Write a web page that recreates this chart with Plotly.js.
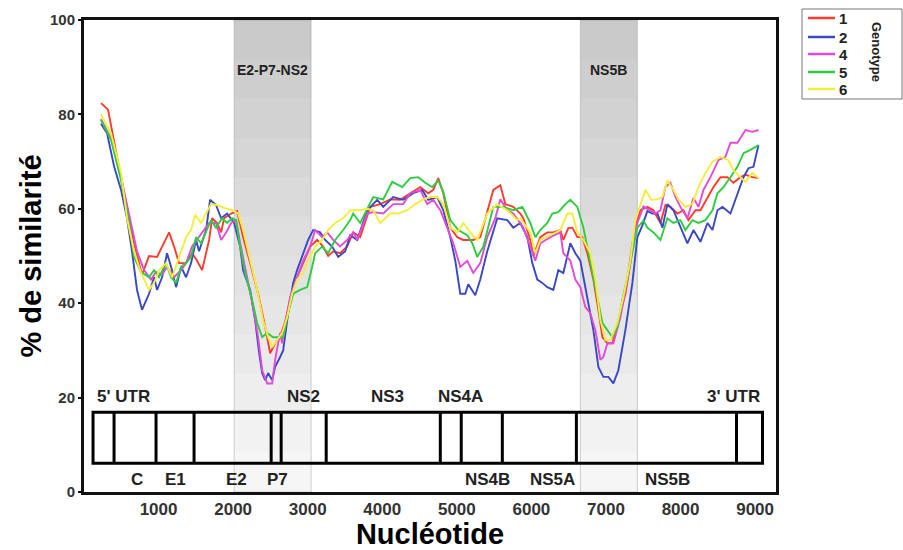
<!DOCTYPE html>
<html><head><meta charset="utf-8">
<script src="https://cdn.plot.ly/plotly-3.0.1.min.js"></script>
<style>html,body{margin:0;padding:0;background:#fff}#chart{width:903px;height:550px}</style>
</head><body><div id="chart"></div>
<script>
// ---- data (nucleotide position, % similarity) ----
const genotypeNames = ['1', '2', '4', '5', '6'];
const genotype1 = [[228,82.4],[322,81],[443,71],[577,60],[671,52.7],[778,46],[872,50],[980,49.8],[1047,52],[1141,55],[1208,52],[1275,48.5],[1369,48.5],[1449,50.6],[1516,49],[1584,47],[1678,53.4],[1718,58],[1785,57],[1839,55],[1879,58],[1973,59],[2053,59.5],[2134,54],[2228,48.5],[2335,42],[2429,35],[2496,29.4],[2563,31.5],[2630,33],[2697,36],[2765,41],[2858,45.5],[2939,48.5],[3033,52],[3127,53.4],[3207,52],[3274,50],[3342,51],[3435,50.6],[3529,52],[3610,55],[3704,54],[3838,60.4],[3972,61],[4107,62],[4241,61.9],[4375,63.3],[4509,64.6],[4616,63.3],[4684,64],[4751,66.5],[4818,63.3],[4912,56],[5006,54],[5086,53.4],[5220,53.4],[5314,54],[5408,59.7],[5489,64],[5583,65],[5650,61],[5757,60.4],[5851,59],[5891,58],[5985,53.4],[6026,50],[6119,54],[6213,55],[6294,55],[6387,55.5],[6428,53.4],[6495,55.9],[6549,56],[6616,54],[6683,54],[6750,50.6],[6831,45],[6898,38.6],[6952,32.8],[7019,31.5],[7086,31.5],[7166,36.4],[7260,42],[7327,48.5],[7394,56],[7461,59.7],[7555,60.4],[7636,59.7],[7730,57],[7797,60.8],[7864,60.4],[7958,59],[8039,59.7],[8106,57.6],[8200,59.7],[8267,59.7],[8361,62.5],[8441,64.6],[8535,66.7],[8629,66.7],[8709,65.5],[8803,66.7],[8871,67.2],[8965,66.7],[9045,66.5]];
const genotype2 = [[228,78],[309,76],[403,69],[497,64],[577,58],[644,51],[711,42.8],[778,38.6],[872,42],[939,45.5],[980,42.8],[1047,45.5],[1114,50.6],[1181,47],[1235,43.4],[1302,47.7],[1369,45.5],[1436,48.5],[1503,53.4],[1543,51],[1637,55.5],[1691,61.9],[1771,60.8],[1839,58],[1919,59],[2013,57],[2094,52],[2134,47],[2228,42.8],[2295,36.4],[2349,29.4],[2389,25.2],[2429,23.7],[2469,25.2],[2523,23.7],[2563,26.5],[2630,28.6],[2671,30],[2738,37.9],[2805,44.3],[2858,47],[2939,50.6],[3006,53.4],[3073,55.5],[3167,55],[3234,53.4],[3328,52],[3409,49.8],[3503,51],[3570,54.4],[3664,53.4],[3798,59.7],[3932,61.9],[4013,60.4],[4147,62.5],[4281,61.9],[4415,63.3],[4536,64],[4616,61.9],[4737,62.5],[4818,59.7],[4912,54],[4979,49],[5046,42],[5113,42],[5153,44],[5247,41.7],[5314,45],[5408,51],[5542,58],[5677,57.6],[5757,56],[5851,57],[5945,54],[6012,48.5],[6079,45],[6146,44.3],[6213,43.4],[6294,42.8],[6361,47],[6428,46.4],[6522,52.7],[6589,50.6],[6656,49],[6750,41.3],[6831,34.3],[6898,26.5],[6965,24.4],[7032,24.4],[7099,23],[7166,25.8],[7260,34.3],[7354,44.3],[7421,54],[7488,56.5],[7555,59.5],[7623,59],[7690,59],[7757,56],[7824,61],[7904,59.7],[7998,56],[8092,52.7],[8173,55.5],[8267,53],[8361,57],[8428,55.5],[8495,59.7],[8562,60.4],[8669,59],[8763,63.3],[8844,66.7],[8911,68.6],[8978,68.9],[9045,73.5]];
const genotype4 = [[228,79],[362,75],[497,66.7],[631,57],[711,51],[805,47],[899,45],[966,46.6],[1047,46],[1114,47.7],[1208,45.5],[1302,47],[1369,48.5],[1449,52],[1516,53.4],[1584,55],[1678,57],[1771,57],[1839,53.4],[1906,55],[1973,57],[2040,57.6],[2094,52.7],[2187,45.5],[2268,39.2],[2335,32.8],[2389,25.8],[2456,23],[2523,23],[2563,28],[2630,33.7],[2657,31.5],[2697,35],[2765,41.3],[2858,45.5],[2939,49],[3033,52],[3100,55.5],[3194,54],[3261,55],[3342,53.4],[3435,52],[3529,53.4],[3610,55],[3664,53.4],[3798,59],[3878,59.3],[4013,59],[4147,61],[4281,61],[4375,63.3],[4509,64],[4603,61],[4684,61.9],[4778,59.7],[4871,56],[4952,52.7],[5046,47.7],[5140,49],[5220,46.4],[5314,48.5],[5408,54],[5516,58],[5583,62],[5677,59.7],[5757,59],[5891,56],[5985,52],[6052,49],[6119,52.7],[6254,54],[6387,55],[6428,50.6],[6522,49],[6589,45],[6656,43.4],[6723,39.2],[6790,37.9],[6858,34.3],[6925,28],[6965,28.6],[7019,31.5],[7099,31.5],[7193,37],[7287,45],[7354,52.7],[7421,57],[7502,60.5],[7596,59.7],[7663,59],[7730,59.7],[7797,64.6],[7864,65.5],[7931,62.5],[7998,60.4],[8092,58],[8173,62.3],[8240,60.4],[8307,64],[8401,66.7],[8508,70.3],[8602,71],[8669,74],[8763,74],[8871,76.7],[8965,76.3],[9045,76.7]];
const genotype5 = [[228,78.8],[362,74.6],[497,66],[604,57],[671,49.8],[765,46.6],[872,45.5],[939,47],[1007,45.5],[1100,48.5],[1168,45.5],[1235,44.3],[1302,47.7],[1369,48.5],[1436,49.8],[1503,54],[1570,52.7],[1637,55],[1704,57.6],[1771,56],[1852,58],[1919,57],[1986,58],[2040,57.6],[2094,52],[2161,46.4],[2255,40.7],[2322,35.8],[2389,32.8],[2456,33.7],[2536,32.8],[2603,32.8],[2671,32.8],[2738,37.9],[2805,42],[2899,42.8],[2993,43.4],[3060,47.7],[3100,50.6],[3194,52],[3274,50.6],[3368,53.4],[3476,55.5],[3570,57.6],[3610,59],[3704,57],[3878,62.5],[4013,62],[4133,65.7],[4268,64.6],[4375,66.5],[4482,66.7],[4576,65.5],[4670,64.6],[4751,66],[4818,63.6],[4912,57.6],[5019,55.5],[5140,54.4],[5207,52.7],[5274,49.8],[5355,52],[5422,56],[5489,60.4],[5623,60.4],[5757,59.7],[5878,60.4],[5985,57],[6052,54],[6119,55.5],[6213,57],[6280,59],[6361,59.3],[6455,61],[6522,61.9],[6616,60.4],[6697,56],[6790,49],[6884,41.3],[6952,35.8],[7019,34.3],[7086,32.8],[7153,35],[7220,40.7],[7287,45.5],[7354,51],[7421,56],[7502,57.5],[7555,56],[7636,55],[7730,53.4],[7824,58],[7904,57],[7998,57.6],[8065,55.5],[8159,57.6],[8240,57],[8334,57.6],[8428,59.7],[8495,63.3],[8575,64.6],[8669,66.7],[8763,68.9],[8844,71.8],[8938,72.5],[9045,73.5]];
const genotype6 = [[228,80],[362,76],[497,67.6],[577,58],[671,51],[765,46.4],[872,42.8],[939,44.3],[1007,47],[1100,48.5],[1181,45.5],[1275,49.8],[1369,54],[1436,55.5],[1490,58.7],[1570,57],[1637,59],[1704,61],[1785,60.8],[1879,60.2],[1986,59.7],[2067,59],[2134,55.5],[2228,49],[2322,42.8],[2402,36.4],[2469,32.8],[2523,30.7],[2590,32.2],[2657,33.7],[2724,37],[2791,42],[2858,45],[2939,46.4],[3006,49],[3100,52],[3194,53.4],[3274,55.5],[3368,57],[3476,58],[3570,59.7],[3704,59.7],[3798,60],[3878,59.7],[3972,57],[4107,59],[4214,59],[4335,59.7],[4442,61],[4549,62],[4643,62.5],[4737,62.5],[4818,61],[4912,56],[5006,55],[5086,57],[5180,55],[5274,53.4],[5408,59],[5542,61],[5677,59.7],[5811,57.6],[5851,58],[5985,55],[6052,50.6],[6119,53.4],[6254,54.4],[6387,55.5],[6482,59],[6549,59],[6616,55],[6697,53.4],[6790,50.6],[6858,45],[6925,36.4],[6992,32.2],[7059,32.2],[7153,35.8],[7233,41.3],[7327,49],[7394,57.6],[7461,61],[7529,64],[7610,61.9],[7690,62],[7757,62.5],[7824,66],[7904,64],[7971,62],[8065,60.4],[8159,61],[8240,64.6],[8334,67.6],[8428,70],[8535,71],[8642,70.3],[8709,68.2],[8803,66.7],[8871,65.7],[8965,67.6],[9045,66.5]];
const seriesColors = ['#ff3b2f', '#3a47c6', '#e24ad8', '#2ecc40', '#f4ee3a'];

// genome map (HCV), nucleotide coordinates
const genomeStart = 121, genomeEnd = 9099;
const geneBoundaries = [403, 966, 1476, 2510, 2644, 3248, 4778, 5059, 5610, 6603, 8750];
const labelsAbove = ['5\' UTR', 'NS2', 'NS3', 'NS4A', '3\' UTR'];
const labelsAbovePos = [523, 2939, 4066, 5046, 8710];
const labelsBelow = ['C', 'E1', 'E2', 'P7', 'NS4B', 'NS5A', 'NS5B'];
const labelsBelowPos = [711, 1221, 2040, 2590, 5408, 6280, 7824];
// highlighted regions
const regionNames = ['E2-P7-NS2', 'NS5B'];
const regionStart = [2013, 6656];
const regionEnd = [3046, 7421];

const FONT = 'Liberation Sans, Arial, sans-serif';
const allSeries = [genotype1, genotype2, genotype4, genotype5, genotype6];
const traces = allSeries.map((s, i) => ({
  type: 'scatter', mode: 'lines', name: genotypeNames[i], showlegend: false,
  x: s.map(p => p[0]), y: s.map(p => p[1]),
  line: {color: seriesColors[i], width: 1.9}
}));

const shapes = [];
const annotations = [];
// gradient grey bands
const steps = 12;
regionNames.forEach((nm, i) => {
  for (let k = 0; k < steps; k++) {
    shapes.push({type: 'rect', xref: 'x', yref: 'y', x0: regionStart[i], x1: regionEnd[i],
      y0: k * 100 / steps, y1: 100, fillcolor: 'rgba(0,0,0,0.014)', line: {width: 0}, layer: 'below'});
  }
  shapes.push({type: 'rect', xref: 'x', yref: 'y', x0: regionStart[i], x1: regionEnd[i],
    y0: 0, y1: 100, fillcolor: 'rgba(0,0,0,0.02)', line: {width: 1, color: 'rgba(120,120,120,0.35)'}, layer: 'below'});
  annotations.push({x: (regionStart[i] + regionEnd[i]) / 2, y: 89.5, xref: 'x', yref: 'y', text: nm,
    showarrow: false, font: {family: FONT, size: 14, weight: 'bold', color: '#222'}});
});
// genome box
shapes.push({type: 'rect', xref: 'x', yref: 'y', x0: genomeStart, x1: genomeEnd, y0: 6.1, y1: 16.9,
  line: {color: '#000', width: 3}, fillcolor: 'rgba(0,0,0,0)', layer: 'above'});
geneBoundaries.forEach(b => shapes.push({type: 'line', xref: 'x', yref: 'y', x0: b, x1: b, y0: 6.1, y1: 16.9,
  line: {color: '#000', width: 3}}));
labelsAbove.forEach((t, i) => annotations.push({x: labelsAbovePos[i], y: 20.2, xref: 'x', yref: 'y', text: t,
  showarrow: false, font: {family: FONT, size: 17, weight: 'bold', color: '#222'}}));
labelsBelow.forEach((t, i) => annotations.push({x: labelsBelowPos[i], y: 2.6, xref: 'x', yref: 'y', text: t,
  showarrow: false, font: {family: FONT, size: 17, weight: 'bold', color: '#222'}}));

// legend (drawn in paper space, to the right of the plot)
const PW = 692, PH = 472, PL = 84, PB = 492;
const px = v => (v - PL) / PW, py = v => (PB - v) / PH;
shapes.push({type: 'rect', xref: 'paper', yref: 'paper', x0: px(802), x1: px(902), y0: py(99), y1: py(9),
  line: {color: '#777', width: 1}, fillcolor: 'rgba(0,0,0,0)'});
const legendRows = [18, 37, 54, 72, 89];
genotypeNames.forEach((nm, i) => {
  shapes.push({type: 'line', xref: 'paper', yref: 'paper', x0: px(808), x1: px(835), y0: py(legendRows[i]), y1: py(legendRows[i]),
    line: {color: seriesColors[i], width: 2.5}});
  annotations.push({xref: 'paper', yref: 'paper', x: px(837), y: py(legendRows[i]), xanchor: 'left', yanchor: 'middle',
    text: nm, showarrow: false, font: {family: FONT, size: 15, weight: 'bold', color: '#222'}});
});
annotations.push({xref: 'paper', yref: 'paper', x: px(877), y: py(52), xanchor: 'center', yanchor: 'middle',
  text: 'Genotype', textangle: 90,
  showarrow: false, font: {family: FONT, size: 13, weight: 'bold', color: '#222'}});

const layout = {
  width: 903, height: 550,
  margin: {l: 84, r: 127, t: 20, b: 58},
  paper_bgcolor: '#fff', plot_bgcolor: '#fff',
  showlegend: false,
  xaxis: {range: [0, 9280], tickvals: [1000,2000,3000,4000,5000,6000,7000,8000,9000],
    showgrid: false, zeroline: false, showline: true, mirror: true, linewidth: 3, linecolor: '#111',
    ticks: '', tickfont: {family: FONT, size: 17, weight: 'bold', color: '#333'},
    title: {text: 'Nucléotide', standoff: 7, font: {family: FONT, size: 29, weight: 'bold', color: '#000'}}},
  yaxis: {range: [0, 100], tickvals: [0,20,40,60,80,100],
    showgrid: false, zeroline: false, showline: true, mirror: true, linewidth: 3, linecolor: '#111',
    ticks: 'outside', ticklen: 3, tickwidth: 2, tickcolor: '#111',
    tickfont: {family: FONT, size: 15, weight: 'bold', color: '#333'},
    title: {text: '% de similarité', standoff: 0, font: {family: FONT, size: 29, weight: 'bold', color: '#000'}}},
  shapes: shapes, annotations: annotations
};
Plotly.newPlot('chart', traces, layout, {displayModeBar: false, responsive: false});
</script></body></html>
